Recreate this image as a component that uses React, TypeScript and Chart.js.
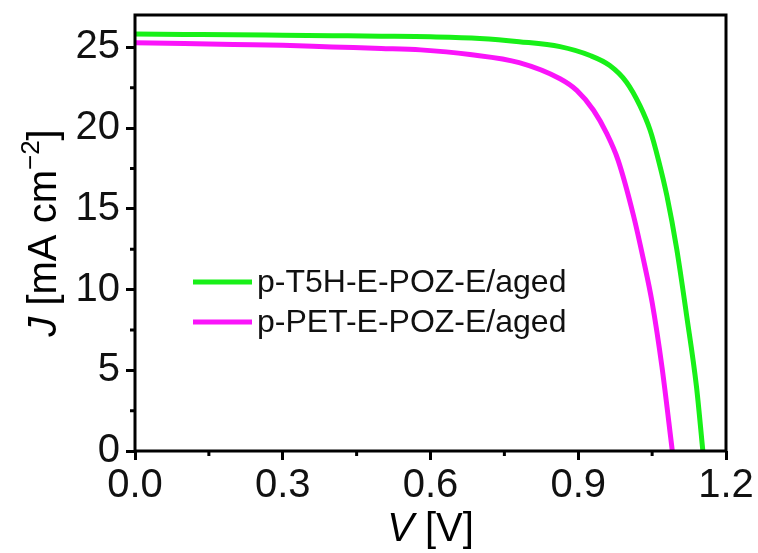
import React, { useEffect, useRef } from "react";
import { Chart, registerables } from "chart.js";

Chart.register(...registerables);

const seriesLabels = ["p-T5H-E-POZ-E/aged", "p-PET-E-POZ-E/aged"];
const seriesColors = ["#18f018", "#fa14fa"];

const greenV = [0, 0.1, 0.2, 0.3, 0.4, 0.5, 0.6, 0.7, 0.78, 0.863, 0.924, 0.964, 0.998, 1.025, 1.046, 1.063, 1.08, 1.1, 1.12, 1.14, 1.153];
const greenJ = [25.82, 25.8, 25.78, 25.75, 25.72, 25.69, 25.65, 25.55, 25.35, 25.04, 24.49, 23.87, 22.84, 21.4, 19.86, 18.0, 15.8, 12.5, 8.4, 4.0, 0];

const magentaV = [0, 0.1, 0.2, 0.3, 0.4, 0.5, 0.58, 0.68, 0.78, 0.863, 0.897, 0.931, 0.958, 0.981, 1.012, 1.032, 1.05, 1.07, 1.091];
const magentaJ = [25.28, 25.23, 25.17, 25.12, 25.02, 24.93, 24.84, 24.55, 24.05, 23.05, 22.33, 21.1, 19.65, 18.0, 14.6, 11.9, 9.2, 5.2, 0];

const xTicks = [0, 0.3, 0.6, 0.9, 1.2];
const yTicks = [0, 5, 10, 15, 20, 25];
const xMinorTicks = [0.15, 0.45, 0.75, 1.05];
const yMinorTicks = [2.5, 7.5, 12.5, 17.5, 22.5];

const FONT = "'Liberation Sans', Arial, sans-serif";

const overlay = {
  id: "overlay",
  afterDraw(chart: any) {
    const { ctx, chartArea: a, scales } = chart;
    const xs = scales.x;
    const ys = scales.y;
    ctx.save();
    ctx.strokeStyle = "#000";
    ctx.lineWidth = 3;
    ctx.strokeRect(a.left, a.top, a.right - a.left, a.bottom - a.top);
    ctx.beginPath();
    xMinorTicks.forEach((v) => {
      const px = xs.getPixelForValue(v);
      ctx.moveTo(px, a.bottom);
      ctx.lineTo(px, a.bottom + 5);
    });
    yMinorTicks.forEach((v) => {
      const py = ys.getPixelForValue(v);
      ctx.moveTo(a.left, py);
      ctx.lineTo(a.left - 5, py);
    });
    ctx.stroke();

    ctx.fillStyle = "#000";
    ctx.textBaseline = "alphabetic";
    const p1 = "V";
    const p2 = " [V]";
    ctx.font = `italic 40px ${FONT}`;
    const w1 = ctx.measureText(p1).width;
    ctx.font = `40px ${FONT}`;
    const w2 = ctx.measureText(p2).width;
    const cx = (a.left + a.right) / 2;
    const sx = cx - (w1 + w2) / 2;
    ctx.font = `italic 40px ${FONT}`;
    ctx.fillText(p1, sx, 541);
    ctx.font = `40px ${FONT}`;
    ctx.fillText(p2, sx + w1, 541);

    const parts = [
      { t: "J", f: `italic 40px ${FONT}`, dy: 0 },
      { t: " [mA cm", f: `40px ${FONT}`, dy: 0 },
      { t: "\u22122", f: `26px ${FONT}`, dy: -17 },
      { t: "]", f: `40px ${FONT}`, dy: 0 },
    ];
    let total = 0;
    const widths = parts.map((p) => {
      ctx.font = p.f;
      const w = ctx.measureText(p.t).width;
      total += w;
      return w;
    });
    ctx.save();
    ctx.translate(56, (a.top + a.bottom) / 2);
    ctx.rotate(-Math.PI / 2);
    let tx = -total / 2;
    parts.forEach((p, i) => {
      ctx.font = p.f;
      ctx.fillText(p.t, tx, p.dy);
      tx += widths[i];
    });
    ctx.restore();

    const rows = [282, 322];
    chart.data.datasets.forEach((ds: any, i: number) => {
      const y = rows[i];
      ctx.strokeStyle = ds.borderColor;
      ctx.lineWidth = 5;
      ctx.beginPath();
      ctx.moveTo(193, y);
      ctx.lineTo(252, y);
      ctx.stroke();
      ctx.fillStyle = "#111";
      ctx.font = `32px ${FONT}`;
      ctx.textBaseline = "middle";
      ctx.fillText(ds.label, 257, y + 1);
    });
    ctx.restore();
  },
};

export default function App() {
  const ref = useRef<HTMLCanvasElement | null>(null);
  useEffect(() => {
    if (!ref.current) return;
    const mk = (xv: number[], yv: number[]) => xv.map((x, i) => ({ x, y: yv[i] }));
    const chart = new Chart(ref.current, {
      type: "scatter",
      data: {
        datasets: [
          {
            label: seriesLabels[0],
            data: mk(greenV, greenJ),
            borderColor: seriesColors[0],
            backgroundColor: seriesColors[0],
            borderWidth: 5,
            showLine: true,
            pointRadius: 0,
            cubicInterpolationMode: "monotone",
          },
          {
            label: seriesLabels[1],
            data: mk(magentaV, magentaJ),
            borderColor: seriesColors[1],
            backgroundColor: seriesColors[1],
            borderWidth: 5,
            showLine: true,
            pointRadius: 0,
            cubicInterpolationMode: "monotone",
          },
        ],
      },
      plugins: [overlay],
      options: {
        animation: false,
        responsive: false,
        devicePixelRatio: 1,
        layout: { padding: { left: 0, right: 32, top: 15, bottom: 0 } },
        plugins: { legend: { display: false }, tooltip: { enabled: false } },
        scales: {
          x: {
            type: "linear",
            min: 0,
            max: 1.2,
            afterBuildTicks: (s: any) => {
              s.ticks = xTicks.map((v) => ({ value: v }));
            },
            afterFit: (s: any) => {
              s.height = 102;
              s.paddingLeft = 0;
              s.paddingRight = 0;
            },
            ticks: {
              color: "#111",
              font: { family: FONT, size: 40 },
              padding: 2,
              maxRotation: 0,
              callback: (v: any) => Number(v).toFixed(1),
            },
            grid: {
              drawOnChartArea: false,
              drawTicks: true,
              tickLength: 9,
              tickWidth: 3,
              tickColor: "#000",
            },
            border: { display: false },
          },
          y: {
            type: "linear",
            min: 0,
            max: 27,
            afterBuildTicks: (s: any) => {
              s.ticks = yTicks.map((v) => ({ value: v }));
            },
            afterFit: (s: any) => {
              s.width = 135;
              s.paddingTop = 0;
              s.paddingBottom = 0;
            },
            ticks: {
              color: "#111",
              font: { family: FONT, size: 40 },
              padding: 6,
              callback: (v: any) => String(v),
            },
            grid: {
              drawOnChartArea: false,
              drawTicks: true,
              tickLength: 9,
              tickWidth: 3,
              tickColor: "#000",
            },
            border: { display: false },
          },
        },
      },
    });
    return () => chart.destroy();
  }, []);
  return (
    <div style={{ position: "fixed", left: 0, top: 0, width: 758, height: 553, background: "#fff" }}>
      <canvas ref={ref} width={758} height={553} style={{ width: 758, height: 553 }} />
    </div>
  );
}
